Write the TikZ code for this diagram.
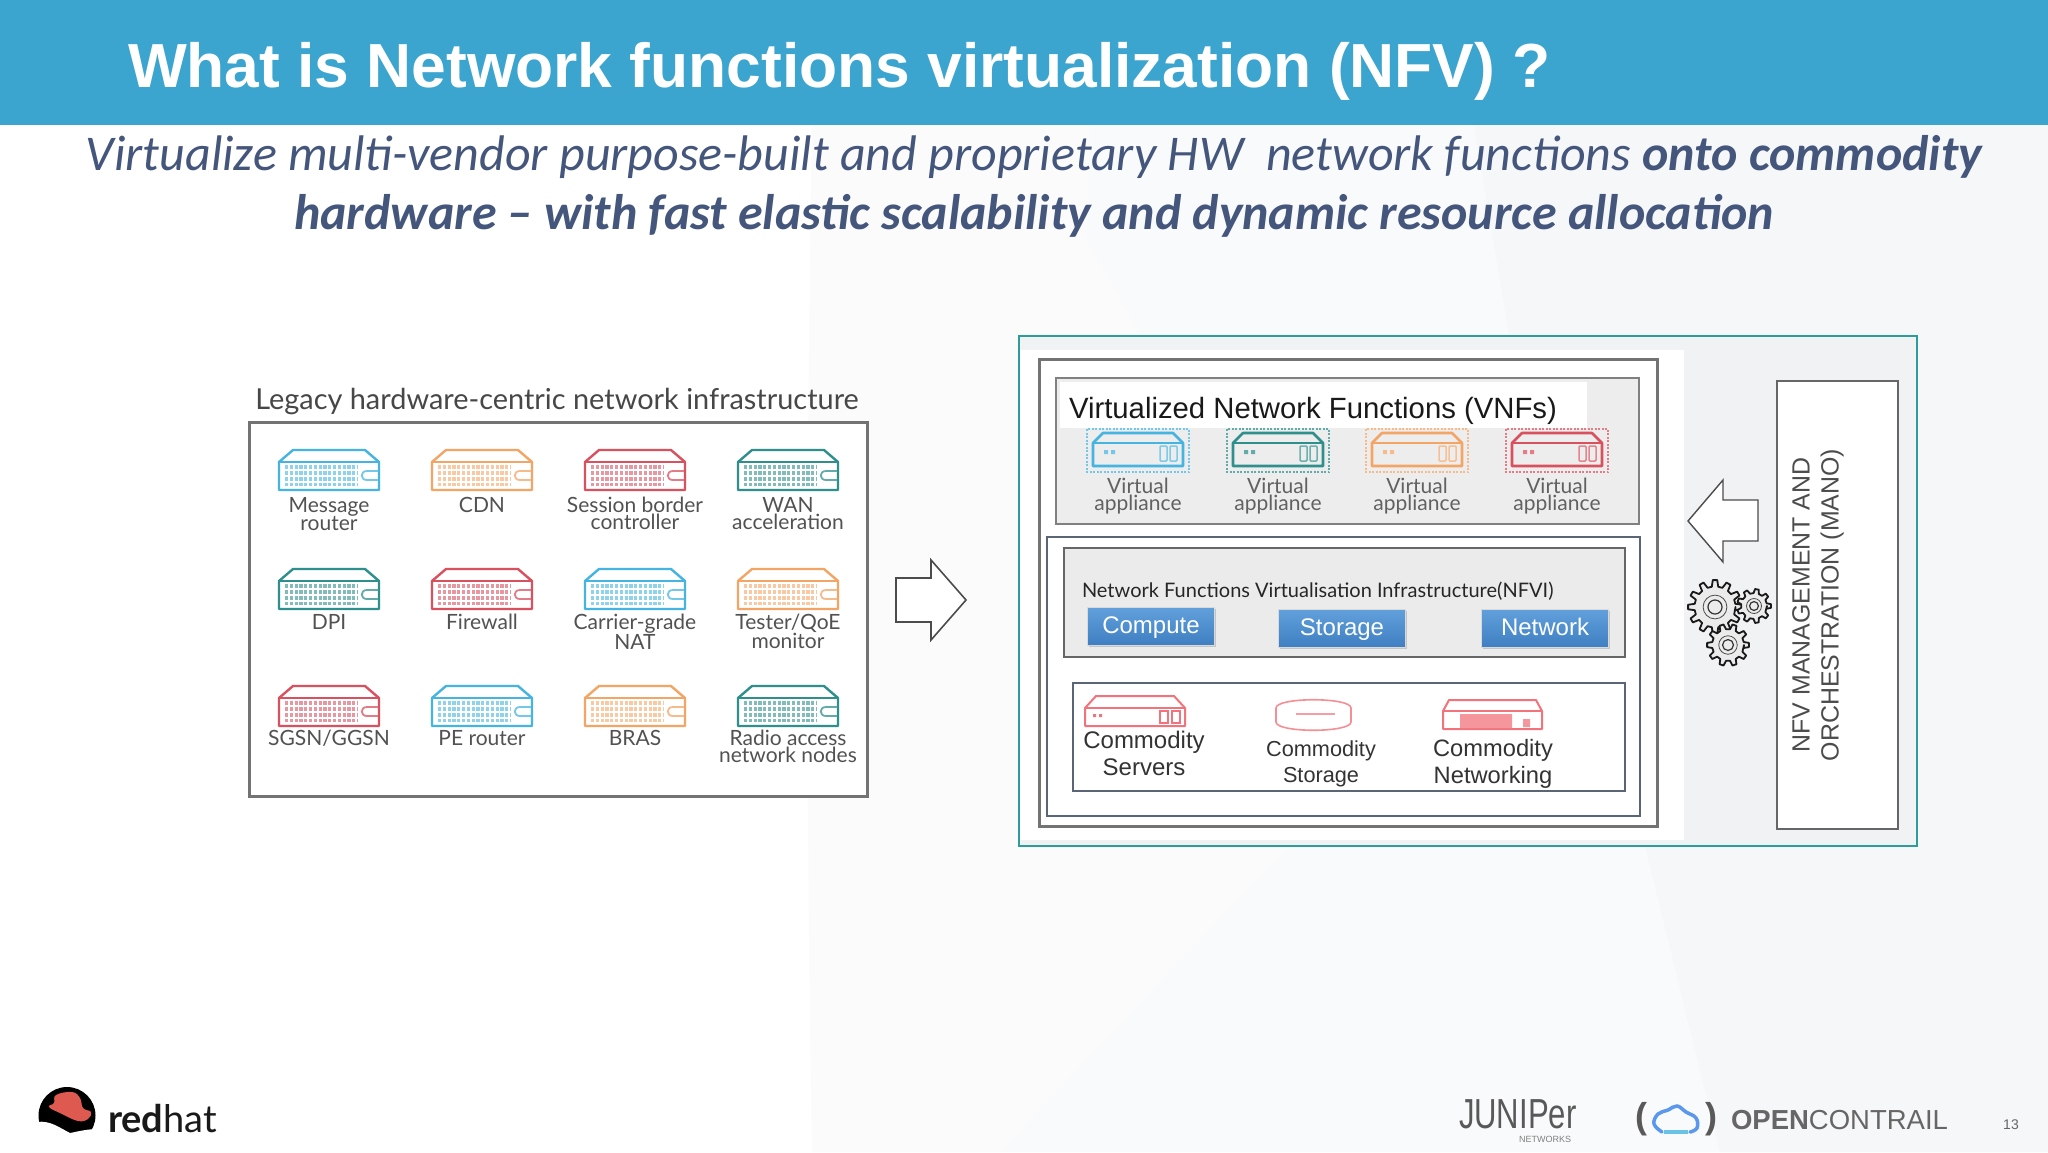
\documentclass[tikz,border=0pt]{standalone}
\usepackage{fontspec}
\usepackage{tikz}
\usetikzlibrary{positioning, shadows}

\setmainfont{Liberation Sans}
\newfontfamily\subfont{Carlito}
\newfontfamily\legacyfont{Lato}

\definecolor{headblue}{HTML}{3CA5CF}
\definecolor{subblue}{HTML}{45567C}
\definecolor{tealline}{HTML}{2F9C9C}
\definecolor{rackblue}{HTML}{45B4E0}
\definecolor{rackorange}{HTML}{F3A566}
\definecolor{rackred}{HTML}{D9505F}
\definecolor{rackteal}{HTML}{2F8F8C}
\definecolor{slateline}{HTML}{5A6578}
\definecolor{softred}{HTML}{F2737B}
\definecolor{buttontop}{HTML}{62A0DC}
\definecolor{buttonlow}{HTML}{3F7FC2}
\definecolor{hatred}{HTML}{DE5A50}
\definecolor{backa}{HTML}{FBFBFC}
\definecolor{backb}{HTML}{F9FAFB}
\definecolor{backc}{HTML}{F6F7F9}
\definecolor{manofill}{HTML}{F0F2F4}

\newcommand{\pxfont}[1]{\fontsize{#1}{#1}\selectfont}
\newcommand{\pxlead}[2]{\fontsize{#1}{#2}\selectfont}

\tikzset{
	pics/rack/.style = {code = {
		\draw[#1!60, line width=3.4pt, dash pattern=on 3.2pt off 1.6pt]
			(-44,-3) -- (29,-3) (-44,3) -- (29,3) (-44,9) -- (29,9) (-44,14.5) -- (29,14.5);
		\draw[#1, line width=2.4pt, line join=round]
			(-50,-8) -- (-36,-20) -- (36,-20) -- (50,-8) -- (50,20) -- (-50,20) -- cycle;
		\draw[#1, line width=1.6pt] (-50,-8) -- (50,-8);
		\draw[#1!75, line width=1.8pt] (49,1) -- (38,1) .. controls (31,1) and (31,10) .. (38,10) -- (49,10);
	}},
	pics/vbox/.style = {code = {
		\draw[#1!75, line width=2pt, dash pattern=on 2pt off 1.5pt] (-51,-22) rectangle (51,21);
		\draw[#1, line width=2.6pt, line join=round]
			(-45,-8) -- (-35,-18) -- (35,-18) -- (45,-8) -- (45,15) -- (-45,15) -- cycle;
		\draw[#1, line width=1.6pt] (-45,-8) -- (45,-8);
		\fill[#1!75] (-34,-1) rectangle ++(4,4) (-27,-1) rectangle ++(4,4);
		\draw[#1!70, line width=1.5pt, rounded corners=1pt] (22,-5) rectangle (29,10) (32,-5) rectangle (39,10);
	}},
	pics/gear/.style 2 args = {code = {
		\pgfmathsetmacro{\gearstep}{360/#1}
		\pgfmathsetmacro{\gearin}{0.76*#2}
		\draw[line width=1.8pt, black!90, fill=black!8, line join=round]
			(0:\gearin)
			\foreach \k in {1,...,#1} {
				-- ({(\k-0.3)*\gearstep}:\gearin) -- ({(\k-0.16)*\gearstep}:#2)
				-- ({(\k+0.16)*\gearstep}:#2) -- ({(\k+0.3)*\gearstep}:\gearin)
			} -- cycle;
		\draw[line width=1.2pt, black!80] (0,0) circle[radius=0.26*#2];
		\draw[line width=0.8pt, black!70] (0,0) circle[radius=0.44*#2];
	}}
}

\begin{document}
\begin{tikzpicture}[
	x = 1pt, y = -1pt,
	every node/.style = {inner sep=0pt, outer sep=0pt},
	legacy/.style = {font=\legacyfont\pxlead{21}{17}, text=black!68, align=center},
	vnflabel/.style = {font=\legacyfont\pxlead{21}{17}, text=black!62, align=center},
	commodity/.style = {font=\pxfont{24}, text=black!80, align=center},
	button/.style = {font=\pxfont{24}, text=white, draw=black!15, line width=0.5pt, minimum width=127pt, minimum height=38pt,
		text height=14pt, text depth=0pt, top color=buttontop, bottom color=buttonlow,
		drop shadow={shadow xshift=1pt, shadow yshift=-2pt, opacity=.35}},
	block/.style = {draw=black!70, line width=1.6pt, fill=white, line join=miter},
]
\useasboundingbox (0,0) rectangle (2048,1152);

% page and header
\fill[white] (0,0) rectangle (2048,1152);
\fill[backa] (812,125) .. controls (806,500) and (806,800) .. (812,1152) -- (2048,1152) -- (2048,125) -- cycle;
\fill[backb] (1090,125) -- (1087,240) -- (1200,440) -- (1285,850) -- (1000,1152) -- (2048,1152) -- (2048,125) -- cycle;
\fill[backc] (1474,125) -- (1520,400) -- (1646,850) -- (1720,1152) -- (2048,1152) -- (2048,125) -- cycle;
\fill[headblue] (0,0) rectangle (2048,125);
\node[anchor=west, font=\pxfont{62.3}\bfseries, text=white] (title) at (128,71) {What is Network functions virtualization (NFV) ?};
\node[font=\subfont\pxlead{50}{59}\itshape, text=subblue, align=center] (lead) at (1034,186)
	{Virtualize multi-vendor purpose-built and proprietary HW\ \ network functions \textbf{onto commodity}\\
	\textbf{hardware – with fast elastic scalability and dynamic resource allocation}};

% legacy side
\node[font=\legacyfont\pxfont{28.9}, text=black!72] (legacy title) at (557,401) {Legacy hardware-centric network infrastructure};
\draw[black!55, line width=3pt, fill=white] (249,422) rectangle (867,796);

\pic at (329,470) {rack=rackblue};
\pic at (482,470) {rack=rackorange};
\pic at (635,470) {rack=rackred};
\pic at (788,470) {rack=rackteal};
\pic at (329,589) {rack=rackteal};
\pic at (482,589) {rack=rackred};
\pic at (635,589) {rack=rackblue};
\pic at (788,589) {rack=rackorange};
\pic at (329,706) {rack=rackred};
\pic at (482,706) {rack=rackblue};
\pic at (635,706) {rack=rackorange};
\pic at (788,706) {rack=rackteal};

\node[legacy, anchor=north] (message) at (329,497) {Message\\router};
\node[legacy, anchor=north] (cdn) at (482,497) {CDN};
\node[legacy, anchor=north] (session) at (635,497) {Session border\\controller};
\node[legacy, anchor=north] (wan) at (788,497) {WAN\\acceleration};
\node[legacy, anchor=north] (dpi) at (329,614) {DPI};
\node[legacy, anchor=north] (firewall) at (482,614) {Firewall};
\node[legacy, anchor=north] (carrier) at (635,614) {Carrier-grade\\NAT};
\node[legacy, anchor=north] (tester) at (788,614) {Tester/QoE\\monitor};
\node[legacy, anchor=north] (sgsn) at (329,730) {SGSN/GGSN};
\node[legacy, anchor=north] (pe) at (482,730) {PE router};
\node[legacy, anchor=north] (bras) at (635,730) {BRAS};
\node[legacy, anchor=north] (radio) at (788,730) {Radio access\\network nodes};

\draw[block] (896,578) -- (931,578) -- (931,560) -- (966,600) -- (931,640) -- (931,622) -- (896,622) -- cycle;

% virtualized side
\draw[tealline, line width=1.8pt, fill=manofill] (1019,336) rectangle (1917,846);
\fill[white] (1020,350) rectangle (1684,840);
\draw[black!55, line width=3pt, fill=white] (1039,359) rectangle (1657,826);

\draw[black!50, line width=2.4pt, fill=black!7] (1056,378) rectangle (1639,524);
\fill[white] (1060,382) rectangle (1587,428);
\node[anchor=west, font=\pxfont{29.3}, text=black!90] (vnf title) at (1069,411) {Virtualized Network Functions (VNFs)};

\pic at (1138,451) {vbox=rackblue};
\pic at (1278,451) {vbox=rackteal};
\pic at (1417,451) {vbox=rackorange};
\pic at (1557,451) {vbox=rackred};
\node[vnflabel, anchor=north] (vnf a) at (1138,478) {Virtual\\appliance};
\node[vnflabel, anchor=north] (vnf b) at (1278,478) {Virtual\\appliance};
\node[vnflabel, anchor=north] (vnf c) at (1417,478) {Virtual\\appliance};
\node[vnflabel, anchor=north] (vnf d) at (1557,478) {Virtual\\appliance};

\draw[slateline, line width=2.2pt, fill=white] (1047,537) rectangle (1640,816);
\draw[black!60, line width=2pt, fill=black!8] (1064,548) rectangle (1625,657);
\node[anchor=west, font=\legacyfont\pxfont{20}, text=black!85] (nfvi title) at (1082,591) {Network Functions Virtualisation Infrastructure(NFVI)};
\node[button] (compute) at (1151,626) {Compute};
\node[button] (storage) at (1342,628) {Storage};
\node[button] (network) at (1545,628) {Network};

\draw[slateline, line width=2.2pt, fill=white] (1073,683) rectangle (1625,791);
\draw[softred, line width=2pt, line join=round] (1085,708) -- (1096,696) -- (1174,696) -- (1185,708) -- (1185,726) -- (1085,726) -- cycle;
\draw[softred, line width=1.2pt] (1085,708) -- (1185,708) (1160,711) rectangle (1168,723) (1172,711) rectangle (1180,723);
\fill[softred] (1093,714) rectangle ++(3,3) (1099,714) rectangle ++(3,3);
\draw[softred!80, line width=1.6pt, fill=white] (1276,708) .. controls (1276,697) and (1351,697) .. (1351,708) -- (1351,722)
	.. controls (1351,733) and (1276,733) .. (1276,722) -- cycle;
\draw[softred!70, line width=1.2pt] (1296,714) -- (1335,714);
\draw[softred, line width=2pt, line join=round] (1443,711) -- (1449,700) -- (1536,700) -- (1542,711) -- (1542,729) -- (1443,729) -- cycle;
\fill[softred!75] (1460,714) rectangle (1512,728) (1523,719) rectangle (1530,727);
\draw[softred, line width=1.2pt] (1443,711) -- (1542,711);
\node[commodity] (servers) at (1144,753) {Commodity\\[3pt]Servers};
\node[commodity, font=\pxfont{21.7}] (cstorage) at (1321,764) {Commodity\\[4pt]Storage};
\node[commodity, font=\pxfont{23.7}] (networking) at (1493,764) {Commodity\\[3pt]Networking};

\draw[block, line width=1.4pt] (1688,521) -- (1723,480) -- (1723,500) -- (1758,500) -- (1758,541) -- (1723,541) -- (1723,562) -- cycle;
\pic at (1715,607) {gear={12}{27}};
\pic at (1754,606) {gear={9}{17}};
\pic at (1728,645) {gear={10}{21}};

\draw[black!60, line width=1.8pt, fill=white] (1777,381) rectangle (1898,829);
\node[rotate=90, font=\pxfont{24.9}, text=black!70, align=center] (mano) at (1818,605) {NFV MANAGEMENT AND\\[4pt]ORCHESTRATION (MANO)};

% footer logos
\fill[black] (67,1115.5) circle[radius=28.5];
\fill[white] (37,1122) .. controls (50,1120) and (60,1128) .. (70,1133) .. controls (80,1131) and (88,1129) .. (98,1129)
	-- (98,1150) -- (37,1150) -- cycle;
\fill[hatred] plot[smooth cycle, tension=0.7] coordinates
	{(56,1095) (72,1092) (80,1098) (83,1108) (91,1112) (88,1119) (78,1121) (62,1114) (49,1107) (54,1103)};
\node[anchor=west, font=\legacyfont\pxfont{38}, text=black!90] (redhat) at (108,1119) {\textbf{red}hat};

\node[anchor=west, xscale=0.74, font=\pxfont{42}, text=black!65, text depth=0pt] (juniper) at (1459,1114) {JUNIPer};
\node[anchor=east, font=\pxfont{9}, text=black!50] (juniper sub) at (1571,1139) {NETWORKS};

\node[font=\pxfont{36}\bfseries, text=black!65] (open paren) at (1641,1119) {(};
\draw[rackblue!70!blue!80!white, line width=3.5pt, line cap=round]
	plot[smooth, tension=0.7] coordinates {(1662,1132) (1654,1124) (1658,1114) (1668,1110) (1677,1106) (1686,1112) (1696,1118) (1697,1128) (1690,1132)};
\draw[rackblue!80, line width=3.5pt, line cap=butt] (1664,1132) -- (1688,1132);
\node[font=\pxfont{36}\bfseries, text=black!65] (close paren) at (1711,1119) {)};
\node[anchor=west, font=\pxfont{27.5}, text=black!60] (contrail) at (1731,1120) {\textbf{OPEN}CONTRAIL};
\node[font=\pxfont{14}, text=black!60] (page) at (2011,1125) {13};

\end{tikzpicture}
\end{document}
